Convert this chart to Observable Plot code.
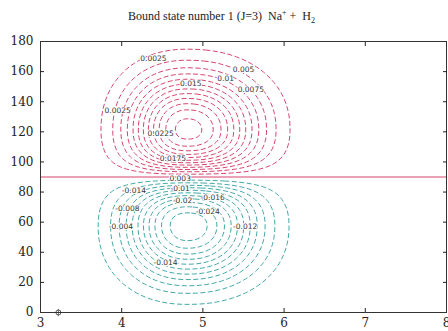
<!DOCTYPE html>
<html>
<head>
<meta charset="utf-8">
<script src="https://cdn.jsdelivr.net/npm/d3@7"></script>
<script src="https://cdn.jsdelivr.net/npm/@observablehq/plot@0.6"></script>
<style>
  html, body { margin: 0; padding: 0; background: #fff; }
  #title { height: 28px; font-family: "Liberation Serif", serif; font-size: 12px; color: #222;
           padding-left: 128px; box-sizing: border-box; padding-top: 8px; white-space: pre; }
  #chart svg { display: block; }
</style>
</head>
<body>
<div id="title">Bound state number 1 (J=3)  Na<sup style="font-size:8px">+</sup> +  H<sub style="font-size:8px">2</sub></div>
<div id="chart"></div>
<script>
// axis ticks
const xTicks = [3, 4, 5, 6, 7, 8];
const yTicks = [0, 20, 40, 60, 80, 100, 120, 140, 160, 180];
const nodeAngle = [90];

// contour levels (positive lobe, negative lobe magnitudes)
const posLevels = [0.0025, 0.005, 0.0075, 0.01, 0.0125, 0.015, 0.0175, 0.02, 0.0225, 0.025, 0.0275, 0.03];
const negLevels = [0.004, 0.008, 0.012, 0.016, 0.02, 0.024, 0.028, 0.032, 0.036, 0.04, 0.044];

// lobe parameters: [upper lobe, lower lobe]
const lobeR = [4.81, 4.81];          // R of each lobe maximum
const lobeAngle = [121, 58];         // angle of each lobe maximum (deg)
const lobeAmp = [0.031, 0.047];      // |value| at maximum
const widthRin = [0.70, 0.73];       // radial width toward small R
const widthRout = [0.83, 0.83];      // radial width toward large R
const widthAfar = [35.4, 34.9];      // angular width away from the node (deg)
const widthAnear = [30, 30];         // angular width toward the node (deg)
const nodeWidth = 9;                 // width of the node region (deg)
const shapePower = 2.2;

// contour labels
const posLabels = ["0.0025", "0.005", "0.01", "0.0075", "0.015", "0.0025", "0.0225", "0.0175"];
const posLabelX = [4.39, 5.50, 5.28, 5.59, 4.85, 3.95, 4.48, 4.63];
const posLabelY = [168.7, 161.4, 155.4, 148.1, 152.1, 134.1, 118.9, 102.3];
const negLabels = ["0.003", "-0.01", "-0.014", "-0.02", "-0.016", "-0.008", "-0.024", "-0.004", "-0.012", "-0.014"];
const negLabelX = [4.72, 4.72, 4.15, 4.75, 5.12, 4.07, 5.06, 3.99, 5.52, 4.54];
const negLabelY = [89, 82.3, 81, 74.4, 76.4, 69.1, 67, 57.1, 57.1, 33.2];

const marker = [{x: 3.22, y: 0}];

function psi(x, y) {
  const k = y >= nodeAngle[0] ? 0 : 1;
  const sign = k === 0 ? 1 : -1;
  const phi = Math.abs(y - nodeAngle[0]);
  const phiC = Math.abs(lobeAngle[k] - nodeAngle[0]);
  const X = (x - lobeR[k]) / (x < lobeR[k] ? widthRin[k] : widthRout[k]);
  const Y = (phi - phiC) / (phi > phiC ? widthAfar[k] : widthAnear[k]);
  const node = Math.tanh(phi / nodeWidth) / Math.tanh(phiC / nodeWidth);
  return sign * lobeAmp[k] * node * Math.exp(-(Math.pow(Math.abs(X), shapePower) + Math.pow(Math.abs(Y), shapePower)));
}

const posLab = posLabels.map((t, i) => ({t, x: posLabelX[i], y: posLabelY[i]}));
const negLab = negLabels.map((t, i) => ({t, x: negLabelX[i], y: negLabelY[i]}));

const red = "#d6456f";
const teal = "#45a8a8";

const plot = Plot.plot({
  width: 448,
  height: 303,
  marginLeft: 40,
  marginRight: 2,
  marginTop: 13,
  marginBottom: 19,
  style: {fontFamily: "DejaVu Serif, serif", fontSize: "12px", color: "#222", background: "#fff"},
  x: {domain: [3, 8]},
  y: {domain: [0, 180]},
  marks: [
    Plot.contour({value: (x, y) => psi(x, y), x1: 3, x2: 8, y1: 0, y2: 180, pixelSize: 1,
      thresholds: posLevels, fill: "none", stroke: red, strokeWidth: 1, strokeDasharray: "5,2.5"}),
    Plot.contour({value: (x, y) => -psi(x, y), x1: 3, x2: 8, y1: 0, y2: 180, pixelSize: 1,
      thresholds: negLevels, fill: "none", stroke: teal, strokeWidth: 1, strokeDasharray: "5,2.5"}),
    Plot.ruleY(nodeAngle, {stroke: red, strokeWidth: 1}),
    Plot.text(posLab, {x: "x", y: "y", text: "t", fontSize: 7.5, fontFamily: "DejaVu Sans, sans-serif", fill: "#333", stroke: "white", strokeWidth: 2}),
    Plot.text(negLab, {x: "x", y: "y", text: "t", fontSize: 7.5, fontFamily: "DejaVu Sans, sans-serif", fill: "#333", stroke: "white", strokeWidth: 2}),
    Plot.dot(marker, {x: "x", y: "y", r: 2.5, stroke: "#555", strokeWidth: 1}),
    Plot.dot(marker, {x: "x", y: "y", r: 2.5, symbol: "plus", stroke: "#555", strokeWidth: 0.8}),
    Plot.frame({stroke: "#333"}),
    Plot.axisX({ticks: xTicks.slice(1, -1), tickSize: -4, tickFormat: () => "", anchor: "bottom", label: null}),
    Plot.axisX({ticks: xTicks.slice(1, -1), tickSize: -4, tickFormat: () => "", anchor: "top", label: null}),
    Plot.axisY({ticks: yTicks.slice(1, -1), tickSize: -4, tickFormat: () => "", anchor: "left", label: null}),
    Plot.axisY({ticks: yTicks.slice(1, -1), tickSize: -4, tickFormat: () => "", anchor: "right", label: null}),
    Plot.axisX({ticks: xTicks, tickSize: 0, tickPadding: 6, anchor: "bottom", label: null, tickFormat: d3.format("d")}),
    Plot.axisY({ticks: yTicks, tickSize: 0, tickPadding: 7, anchor: "left", label: null, tickFormat: d3.format("d")})
  ]
});
document.getElementById("chart").appendChild(plot);
</script>
</body>
</html>
